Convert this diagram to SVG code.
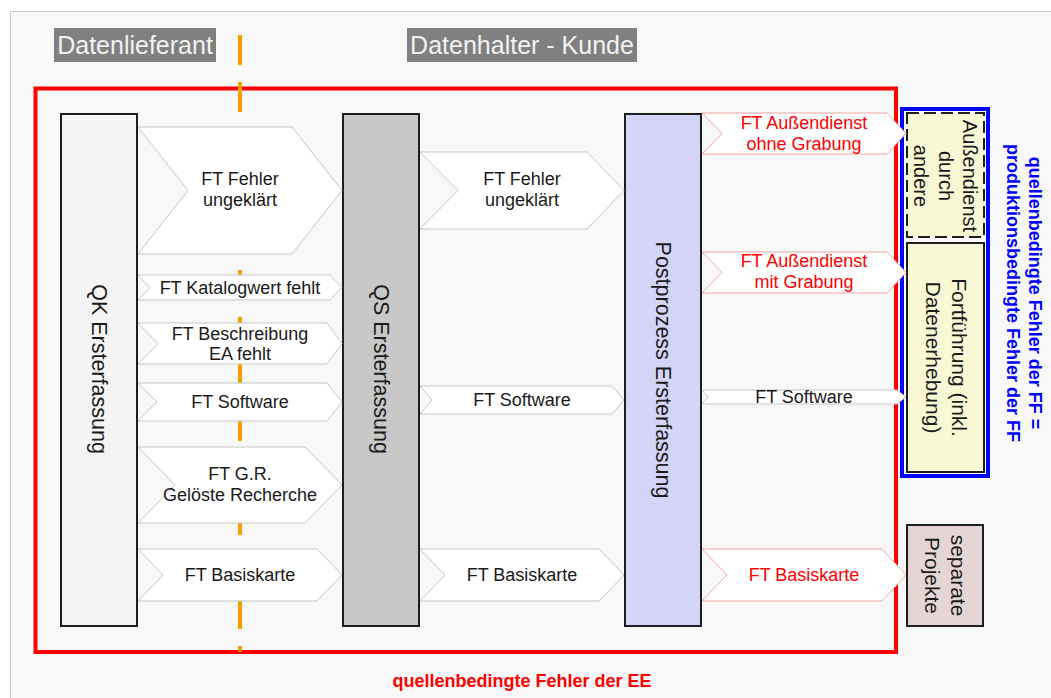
<svg xmlns="http://www.w3.org/2000/svg" width="1051" height="698" viewBox="0 0 1051 698">
<style>
.f{font-family:"Liberation Sans",Arial,sans-serif}
.hdr{fill:#808080}
.hdrt{font-size:25px;fill:#f2f2f2;text-anchor:middle}
.col{stroke:#1e1e1e;stroke-width:2}
.chev{fill:#ffffff;stroke:#c6c6c6;stroke-width:1}
.chevr{fill:#ffffff;stroke:#f2a4a4;stroke-width:1}
.t{font-size:18px;text-anchor:middle;fill:#1a1a1a}
.red{fill:#ff0000}
.vt{text-anchor:middle;dominant-baseline:central;fill:#1a1a1a}
.b{font-weight:bold}
.box{stroke:#1e1e1e;stroke-width:2}
</style>
<rect x="10.5" y="11.5" width="1050" height="700" fill="#f8f8f8" stroke="#c8c8c8" stroke-width="1"/>
<g id="header-datenlieferant">
<rect class="hdr" x="54" y="28" width="162" height="34"/>
<text class="f hdrt" x="135" y="54">Datenlieferant</text>
</g>
<g id="header-datenhalter">
<rect class="hdr" x="407" y="28" width="230" height="34"/>
<text class="f hdrt" x="522" y="54">Datenhalter - Kunde</text>
</g>
<g id="frame-ee">
<rect x="35.5" y="88.5" width="860.5" height="563.5" fill="none" stroke="#ff0000" stroke-width="4"/>
<text class="f b red" x="522" y="687" font-size="18" text-anchor="middle">quellenbedingte Fehler der EE</text>
</g>
<line id="divider" x1="240" y1="35" x2="240" y2="652" stroke="#ff9900" stroke-width="4" stroke-dasharray="30 17"/>
<g id="qk">
<rect class="col" x="61" y="114" width="76" height="512" fill="#f4f4f4"/>
<text class="f vt" font-size="21.5" transform="translate(99,369) rotate(90)">QK Ersterfassung</text>
</g>
<g id="qs">
<rect class="col" x="343" y="114" width="76" height="512" fill="#c8c8c8"/>
<text class="f vt" font-size="21.5" transform="translate(381,369) rotate(90)">QS Ersterfassung</text>
</g>
<g id="postprozess">
<rect class="col" x="625" y="114" width="76" height="512" fill="#d4d4f8"/>
<text class="f vt" font-size="21.5" transform="translate(663,370) rotate(90)">Postprozess Ersterfassung</text>
</g>
<g id="ff-group">
<rect x="902" y="109" width="86" height="367" fill="#ffffff" stroke="#0000ff" stroke-width="4"/>
<g transform="translate(1024,293) rotate(90)">
<text class="f b" font-size="18" fill="#0000ff" text-anchor="middle" dominant-baseline="central" y="-11">quellenbedingte Fehler der FF =</text>
<text class="f b" font-size="18" fill="#0000ff" text-anchor="middle" dominant-baseline="central" y="11.5">produktionsbedingte Fehler der FF</text>
</g>
</g>
<g id="aussendienst-andere">
<rect class="box" x="907" y="113" width="77" height="124" fill="#f8f8d4" stroke-dasharray="12 5"/>
<g transform="translate(946,176) rotate(90)">
<text class="f vt" font-size="20" y="-24">Außendienst</text>
<text class="f vt" font-size="20" y="0">durch</text>
<text class="f vt" font-size="20" y="25">andere</text>
</g>
</g>
<g id="fortfuehrung">
<rect class="box" x="907" y="243" width="77" height="229" fill="#f8f8d4"/>
<g transform="translate(946,357.5) rotate(90)">
<text class="f vt" font-size="21" y="-13">Fortführung (inkl.</text>
<text class="f vt" font-size="21" y="13">Datenerhebung)</text>
</g>
</g>
<g id="separate-projekte">
<rect class="box" x="907" y="525" width="76" height="101" fill="#e6d5d5"/>
<g transform="translate(945,575.5) rotate(90)">
<text class="f vt" font-size="21" y="-13">separate</text>
<text class="f vt" font-size="21" y="13">Projekte</text>
</g>
</g>
<g id="connectors">
<g id="c1-fehler">
<path class="chev" d="M138,127 L292,127 L342,190.5 L292,254 L138,254 L188,190.5 Z"/>
<text class="f t" x="240" y="185">FT Fehler</text>
<text class="f t" x="240" y="205.5">ungeklärt</text>
</g>
<g id="c1-katalog">
<path class="chev" d="M138,275 L330,275 L342,287.5 L330,300 L138,300 L150,287.5 Z"/>
<text class="f t" x="240" y="293.5">FT Katalogwert fehlt</text>
</g>
<g id="c1-beschreibung">
<path class="chev" d="M138,323 L327,323 L342,343.5 L327,364 L138,364 L158,343.5 Z"/>
<text class="f t" x="240" y="339.5">FT Beschreibung</text>
<text class="f t" x="240" y="360">EA fehlt</text>
</g>
<g id="c1-software">
<path class="chev" d="M138,383 L327,383 L342,402 L327,421 L138,421 L157,402 Z"/>
<text class="f t" x="240" y="407.5">FT Software</text>
</g>
<g id="c1-gr">
<path class="chev" d="M138,447 L305,447 L342,485 L305,523 L138,523 L175,485 Z"/>
<text class="f t" x="240" y="480">FT G.R.</text>
<text class="f t" x="240" y="501">Gelöste Recherche</text>
</g>
<g id="c1-basiskarte">
<path class="chev" d="M138,549 L317,549 L342,575 L317,601 L138,601 L163,575 Z"/>
<text class="f t" x="240" y="581">FT Basiskarte</text>
</g>
<g id="c2-fehler">
<path class="chev" d="M420,152 L587,152 L624,190.5 L587,229 L420,229 L458,190.5 Z"/>
<text class="f t" x="522" y="185">FT Fehler</text>
<text class="f t" x="522" y="205.5">ungeklärt</text>
</g>
<g id="c2-software">
<path class="chev" d="M420,386 L612,386 L624,400 L612,414 L420,414 L432,400 Z"/>
<text class="f t" x="522" y="406">FT Software</text>
</g>
<g id="c2-basiskarte">
<path class="chev" d="M420,549 L599,549 L624,575 L599,601 L420,601 L445,575 Z"/>
<text class="f t" x="522" y="581">FT Basiskarte</text>
</g>
<g id="c3-ohne">
<path class="chevr" d="M702,113 L887,113 L906,133.5 L887,154 L702,154 L722,133.5 Z"/>
<text class="f t red" x="804" y="129">FT Außendienst</text>
<text class="f t red" x="804" y="150">ohne Grabung</text>
</g>
<g id="c3-mit">
<path class="chevr" d="M702,252 L887,252 L906,272.5 L887,293 L702,293 L722,272.5 Z"/>
<text class="f t red" x="804" y="267">FT Außendienst</text>
<text class="f t red" x="804" y="288">mit Grabung</text>
</g>
<g id="c3-software">
<path class="chev" d="M702,390 L897,390 L906,397 L897,404 L702,404 L708,397 Z"/>
<text class="f t" x="804" y="402.5">FT Software</text>
</g>
<g id="c3-basiskarte">
<path class="chevr" d="M702,549 L882,549 L906,575 L882,601 L702,601 L727,575 Z"/>
<text class="f t red" x="804" y="581">FT Basiskarte</text>
</g>
</g>
</svg>
